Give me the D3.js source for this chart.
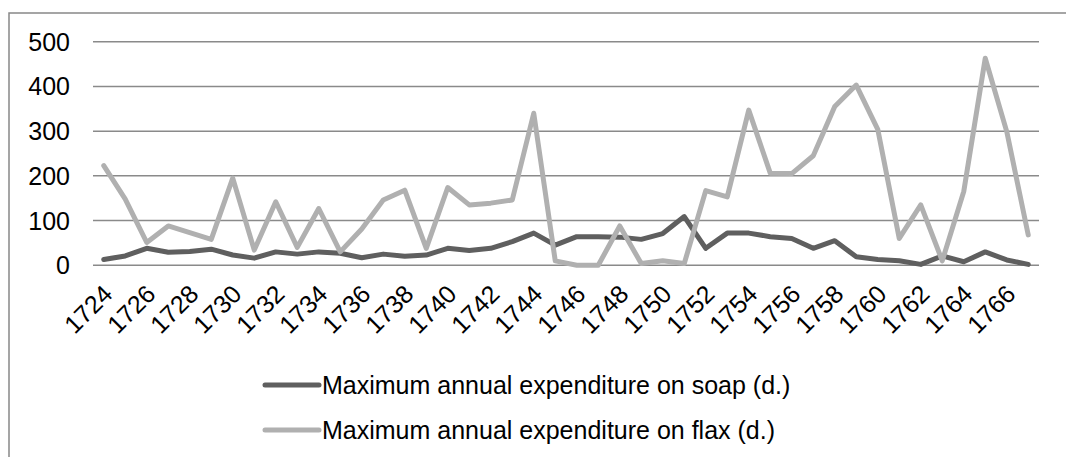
<!DOCTYPE html>
<html>
<head>
<meta charset="utf-8">
<script src="https://cdn.jsdelivr.net/npm/d3@7"></script>
<style>
  body { margin: 0; background: #fff; }
  svg { display: block; font-family: "Liberation Sans", Arial, sans-serif; }
</style>
</head>
<body>
<svg width="1066" height="457"></svg>
<script>
const years = d3.range(1724, 1768);
const soap = [13, 21, 38, 29, 31, 36, 23, 16, 30, 25, 30, 27, 17, 25, 20,
  23, 38, 33, 38, 53, 72, 45, 64, 64, 63, 58, 71, 109, 38, 72,
  72, 64, 60, 38, 55, 19, 13, 10, 2, 21, 8, 30, 12, 2];
const flax = [223, 148, 51, 88, 73, 58, 195, 34, 142, 40, 127, 30, 81, 146, 168,
  38, 174, 135, 139, 146, 340, 10, 0, 0, 88, 4, 10, 4, 167, 153,
  347, 206, 205, 245, 355, 403, 304, 60, 135, 10, 165, 463, 299, 68];
const yTicks = [0, 100, 200, 300, 400, 500];
const seriesNames = ["Maximum annual expenditure on soap (d.)", "Maximum annual expenditure on flax (d.)"];
const seriesColors = ["#5f5f5f", "#b0b0b0"];

const svg = d3.select("svg"),
    margin = {left: 93, right: 27, top: 41.7, bottom: 191.7},
    width = 1066 - margin.left - margin.right,
    height = 457 - margin.top - margin.bottom;

// outer frame
svg.append("path")
    .attr("d", "M9,457 V13 H1066")
    .attr("fill", "none")
    .attr("stroke", "#888")
    .attr("stroke-width", 1.5);

const x = d3.scaleBand().domain(years).range([0, width]);
const y = d3.scaleLinear().domain([0, 500]).range([height, 0]);

const g = svg.append("g").attr("transform", `translate(${margin.left},${margin.top})`);

g.append("g")
  .selectAll("line")
  .data(yTicks)
  .enter().append("line")
    .attr("x1", 0).attr("x2", width)
    .attr("y1", d => y(d)).attr("y2", d => y(d))
    .attr("stroke", "#8a8a8a")
    .attr("stroke-width", 1.5);

g.append("g")
  .selectAll("text")
  .data(yTicks)
  .enter().append("text")
    .attr("x", -23)
    .attr("y", d => y(d))
    .attr("dy", "0.36em")
    .attr("text-anchor", "end")
    .attr("font-size", 25)
    .attr("fill", "#000")
    .text(d => d);

g.append("g")
  .selectAll("text")
  .data(years.filter((d, i) => i % 2 === 0))
  .enter().append("text")
    .attr("transform", d => `translate(${x(d) + x.bandwidth() / 2 - 2},${height + 18}) rotate(-45)`)
    .attr("text-anchor", "end")
    .attr("dy", "0.7em")
    .attr("font-size", 25)
    .attr("fill", "#000")
    .text(d => d);

const line = d3.line()
    .x((d, i) => x(years[i]) + x.bandwidth() / 2)
    .y(d => y(d));

[soap, flax].forEach((s, k) => {
  g.append("path")
      .datum(s)
      .attr("fill", "none")
      .attr("stroke", seriesColors[k])
      .attr("stroke-width", 5)
      .attr("stroke-linejoin", "round")
      .attr("stroke-linecap", "round")
      .attr("d", line);
});

const legend = svg.append("g");
seriesNames.forEach((name, k) => {
  const ly = 385 + k * 45;
  legend.append("line")
      .attr("x1", 265).attr("x2", 319)
      .attr("y1", ly).attr("y2", ly)
      .attr("stroke", seriesColors[k])
      .attr("stroke-width", 5)
      .attr("stroke-linecap", "round");
  legend.append("text")
      .attr("x", 322)
      .attr("y", ly)
      .attr("dy", "0.36em")
      .attr("font-size", 25)
      .attr("fill", "#000")
      .text(name);
});
</script>
</body>
</html>
